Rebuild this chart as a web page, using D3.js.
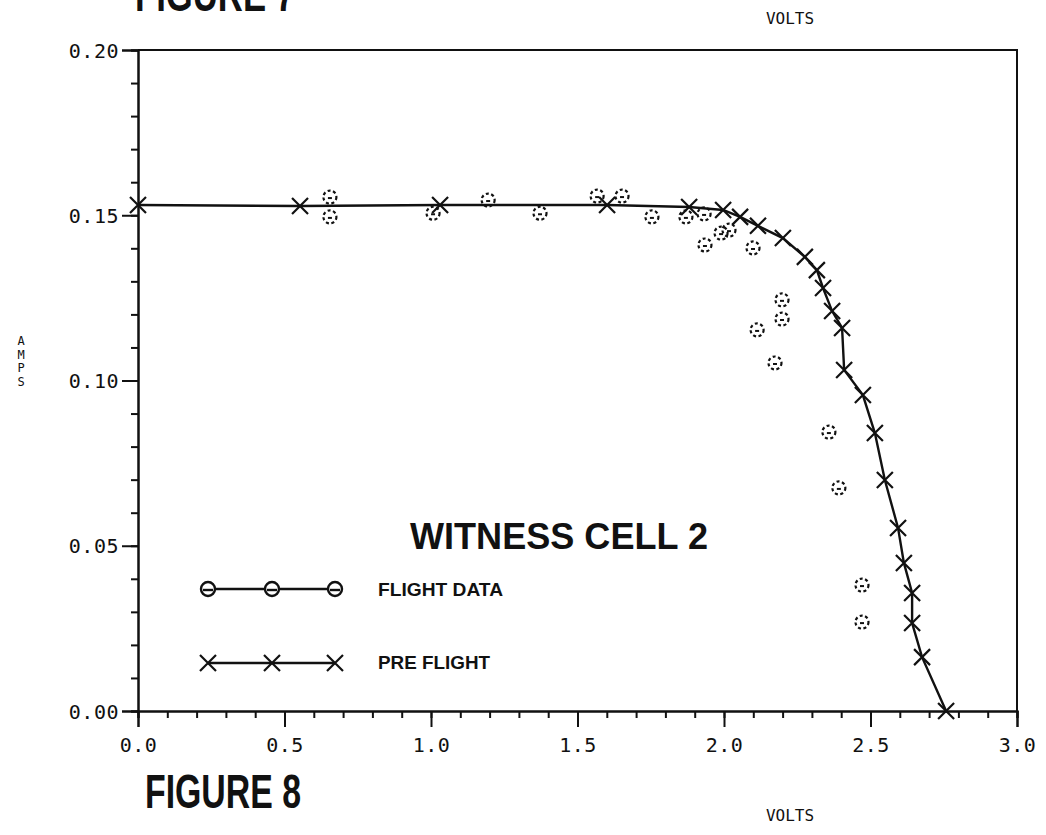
<!DOCTYPE html>
<html>
<head>
<meta charset="utf-8">
<script src="https://cdn.jsdelivr.net/npm/d3@7"></script>
<style>
  body { margin: 0; background: #fff; }
  .mono { font-family: "DejaVu Sans Mono", "Liberation Mono", monospace; }
  .bold { font-family: "Liberation Sans", Arial, sans-serif; font-weight: bold; }
</style>
</head>
<body>
<div id="chart"></div>
<script>
// Pre-flight curve (volts, amps) - crosses joined by a line
var preVolts = [0.0, 0.553, 1.031, 1.601, 1.881, 1.997, 2.055, 2.116, 2.201, 2.276, 2.317, 2.338,
                2.369, 2.403, 2.410, 2.474, 2.515, 2.549, 2.594, 2.614, 2.642, 2.642, 2.676, 2.758];
var preAmps  = [0.1531, 0.1528, 0.1531, 0.1531, 0.1525, 0.1516, 0.1495, 0.1468, 0.1431, 0.1374, 0.1334, 0.1280,
                0.1210, 0.1159, 0.1032, 0.0956, 0.0841, 0.0699, 0.0554, 0.0448, 0.0357, 0.0266, 0.0163, 0.0];

// Flight data (volts, amps) - circles only
var flightVolts = [0.655, 0.655, 1.007, 1.195, 1.372, 1.567, 1.652, 1.754, 1.870, 1.932, 1.990, 2.017,
                   1.935, 2.099, 2.198, 2.198, 2.113, 2.174, 2.358, 2.392, 2.471, 2.471];
var flightAmps  = [0.1555, 0.1495, 0.1506, 0.1546, 0.1506, 0.1558, 0.1558, 0.1495, 0.1495, 0.1504, 0.1446, 0.1455,
                   0.1410, 0.1401, 0.1244, 0.1186, 0.1153, 0.1053, 0.0844, 0.0675, 0.0381, 0.0269];

var xMajor = [0, 0.5, 1.0, 1.5, 2.0, 2.5, 3.0];
var yMajor = [0, 0.05, 0.10, 0.15, 0.20];
var xMinor = d3.range(0, 31).map(function(i) { return i / 10; });
var yMinor = d3.range(0, 21).map(function(i) { return i / 100; });

var legendNames = ["FLIGHT DATA", "PRE FLIGHT"];

var W = 1046, H = 835;
var svg = d3.select('#chart').append('svg')
  .attr('width', W)
  .attr('height', H)
  .style('background-color', '#fff');

var x = d3.scaleLinear().domain([0, 3]).range([138, 1017]);
var y = d3.scaleLinear().domain([0, 0.2]).range([711, 50]);

var ink = '#111';

// frame (top + right)
svg.append('path')
  .attr('d', 'M' + x(0) + ',' + y(0.2) + 'H' + x(3) + 'V' + y(0))
  .attr('fill', 'none').attr('stroke', ink).attr('stroke-width', 2);

// x axis: minor then major
var gxMinor = svg.append('g').attr('transform', 'translate(0,' + y(0) + ')')
  .call(d3.axisBottom(x).tickValues(xMinor).tickSize(7).tickFormat(''));
var gx = svg.append('g').attr('transform', 'translate(0,' + y(0) + ')')
  .call(d3.axisBottom(x).tickValues(xMajor).tickSize(16).tickPadding(8).tickFormat(d3.format('.1f')));

// y axis
var gyMinor = svg.append('g').attr('transform', 'translate(' + x(0) + ',0)')
  .call(d3.axisLeft(y).tickValues(yMinor).tickSize(7).tickFormat(''));
var gy = svg.append('g').attr('transform', 'translate(' + x(0) + ',0)')
  .call(d3.axisLeft(y).tickValues(yMajor).tickSize(16).tickPadding(3).tickFormat(d3.format('.2f')));

[gxMinor, gx, gyMinor, gy].forEach(function(g) {
  g.selectAll('path.domain').attr('stroke', ink).attr('stroke-width', 2);
  g.selectAll('.tick line').attr('stroke', ink).attr('stroke-width', 2);
});
[gx, gy].forEach(function(g) {
  g.selectAll('.tick text')
    .attr('class', 'mono')
    .attr('font-size', 20)
    .attr('letter-spacing', 0.5)
    .attr('fill', ink);
});
gx.selectAll('.tick text').attr('dy', '0.85em');
gy.selectAll('.tick text').attr('dy', '0.35em');

// pre flight line + crosses
var pre = preVolts.map(function(v, i) { return [v, preAmps[i]]; });
svg.append('path')
  .datum(pre)
  .attr('d', d3.line().x(function(d) { return x(d[0]); }).y(function(d) { return y(d[1]); }))
  .attr('fill', 'none').attr('stroke', ink).attr('stroke-width', 2.4);

function cross(sel, s) {
  sel.append('path')
    .attr('d', 'M' + (-s) + ',' + (-s) + 'L' + s + ',' + s + 'M' + (-s) + ',' + s + 'L' + s + ',' + (-s))
    .attr('stroke', ink).attr('stroke-width', 2.2).attr('fill', 'none');
}

svg.append('g').selectAll('g')
  .data(pre).join('g')
  .attr('transform', function(d) { return 'translate(' + x(d[0]) + ',' + y(d[1]) + ')'; })
  .each(function() { cross(d3.select(this), 8); });

// flight data circles (dotted look of the plotter)
var flight = flightVolts.map(function(v, i) { return [v, flightAmps[i]]; });
var fg = svg.append('g').selectAll('g')
  .data(flight).join('g')
  .attr('transform', function(d) { return 'translate(' + x(d[0]) + ',' + y(d[1]) + ')'; });
fg.append('circle')
  .attr('r', 6.5)
  .attr('fill', 'none').attr('stroke', ink).attr('stroke-width', 2.2)
  .attr('stroke-dasharray', '3,2.5');
fg.append('line')
  .attr('x1', -2).attr('x2', 2).attr('y1', 1).attr('y2', 1)
  .attr('stroke', ink).attr('stroke-width', 2);

// legend
var legX = [208, 272, 335];
var lg1 = svg.append('g');
lg1.append('line').attr('x1', legX[0]).attr('x2', legX[2]).attr('y1', 589).attr('y2', 589)
  .attr('stroke', ink).attr('stroke-width', 2.4);
legX.forEach(function(lx) {
  var g = lg1.append('g').attr('transform', 'translate(' + lx + ',589)');
  g.append('circle').attr('r', 7).attr('fill', '#fff').attr('stroke', ink).attr('stroke-width', 2.4);
  g.append('line').attr('x1', -5).attr('x2', 5).attr('y1', 1).attr('y2', 1)
    .attr('stroke', ink).attr('stroke-width', 2.4);
});
var lg2 = svg.append('g');
lg2.append('line').attr('x1', legX[0]).attr('x2', legX[2]).attr('y1', 663).attr('y2', 663)
  .attr('stroke', ink).attr('stroke-width', 2.4);
legX.forEach(function(lx) {
  cross(lg2.append('g').attr('transform', 'translate(' + lx + ',663)'), 8);
});

svg.append('text').attr('class', 'bold')
  .attr('x', 378).attr('y', 596).attr('font-size', 18)
  .attr('textLength', 125).attr('lengthAdjust', 'spacingAndGlyphs')
  .attr('fill', ink).text(legendNames[0]);
svg.append('text').attr('class', 'bold')
  .attr('x', 378).attr('y', 669).attr('font-size', 18)
  .attr('textLength', 112).attr('lengthAdjust', 'spacingAndGlyphs')
  .attr('fill', ink).text(legendNames[1]);

svg.append('text').attr('class', 'bold')
  .attr('x', 410).attr('y', 549).attr('font-size', 36)
  .attr('textLength', 298).attr('lengthAdjust', 'spacingAndGlyphs')
  .attr('fill', ink).text('WITNESS CELL 2');

// figure captions
svg.append('text').attr('class', 'bold')
  .attr('x', 135).attr('y', 11).attr('font-size', 48)
  .attr('textLength', 160).attr('lengthAdjust', 'spacingAndGlyphs')
  .attr('fill', ink).text('FIGURE 7');
svg.append('text').attr('class', 'bold')
  .attr('x', 145).attr('y', 808).attr('font-size', 48)
  .attr('textLength', 156).attr('lengthAdjust', 'spacingAndGlyphs')
  .attr('fill', ink).text('FIGURE 8');

// axis titles
svg.append('text').attr('class', 'mono')
  .attr('x', 790).attr('y', 24).attr('font-size', 16).attr('text-anchor', 'middle')
  .attr('fill', ink).text('VOLTS');
svg.append('text').attr('class', 'mono')
  .attr('x', 790).attr('y', 821).attr('font-size', 16).attr('text-anchor', 'middle')
  .attr('fill', ink).text('VOLTS');

svg.append('g').selectAll('text')
  .data('AMPS'.split('')).join('text')
  .attr('class', 'mono')
  .attr('x', 21)
  .attr('y', function(d, i) { return 345 + i * 13.5; })
  .attr('font-size', 12)
  .attr('text-anchor', 'middle')
  .attr('fill', ink)
  .text(function(d) { return d; });
</script>
</body>
</html>
